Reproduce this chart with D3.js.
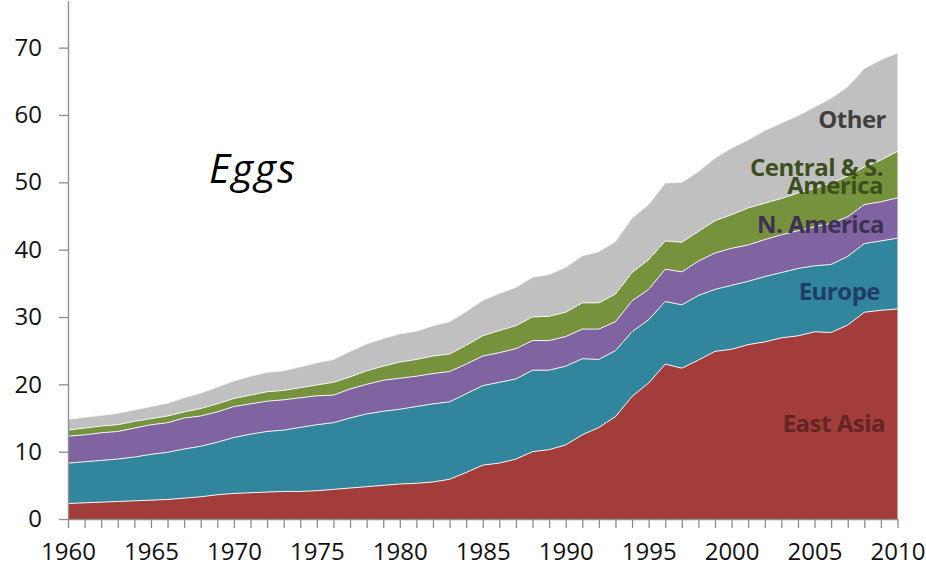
<!DOCTYPE html>
<html>
<head>
<meta charset="utf-8">
<script src="https://cdn.jsdelivr.net/npm/d3@7"></script>
<style>
  body { margin: 0; background: #fff; }
  svg { display: block; font-family: "Open Sans", sans-serif; }
</style>
</head>
<body>
<div id="chart"></div>
<script>
// egg production by region
var years = d3.range(1960, 2011);
var regions = ["East Asia", "Europe", "N. America", "Central & S. America", "Other"];

var eastAsia = [2.3, 2.4, 2.5, 2.6, 2.7, 2.8, 2.9, 3.1, 3.3, 3.6,
  3.8, 3.9, 4.0, 4.1, 4.1, 4.2, 4.4, 4.6, 4.8, 5.0,
  5.2, 5.3, 5.5, 5.9, 6.9, 8.0, 8.3, 8.9, 10.0, 10.3,
  11.0, 12.5, 13.6, 15.2, 18.2, 20.2, 23.0, 22.4, 23.6, 24.9,
  25.2, 25.9, 26.3, 26.9, 27.2, 27.8, 27.7, 28.8, 30.7, 31.0, 31.2];
var europe = [6.0, 6.1, 6.2, 6.3, 6.5, 6.8, 7.0, 7.3, 7.5, 7.8,
  8.3, 8.7, 9.0, 9.1, 9.5, 9.8, 9.9, 10.4, 10.8, 11.0,
  11.1, 11.4, 11.6, 11.5, 11.7, 11.8, 12.0, 11.9, 12.1, 11.8,
  11.7, 11.3, 10.1, 9.8, 9.6, 9.4, 9.3, 9.4, 9.6, 9.2,
  9.5, 9.4, 9.7, 9.7, 10.0, 9.8, 10.1, 10.2, 10.2, 10.3, 10.5];
var nAmerica = [4.0, 4.0, 4.1, 4.1, 4.3, 4.4, 4.4, 4.6, 4.5, 4.5,
  4.6, 4.5, 4.5, 4.5, 4.4, 4.3, 4.1, 4.3, 4.4, 4.6,
  4.6, 4.5, 4.5, 4.5, 4.4, 4.4, 4.4, 4.5, 4.4, 4.4,
  4.4, 4.4, 4.5, 4.3, 4.6, 4.5, 4.8, 4.9, 5.1, 5.4,
  5.5, 5.4, 5.5, 5.6, 5.6, 5.8, 6.1, 5.9, 5.8, 5.8, 6.0];
var csAmerica = [0.9, 1.0, 1.0, 1.0, 1.0, 0.9, 1.0, 0.9, 1.1, 1.2,
  1.2, 1.3, 1.4, 1.4, 1.5, 1.6, 1.9, 1.8, 2.0, 2.1,
  2.4, 2.5, 2.6, 2.6, 2.8, 3.0, 3.3, 3.4, 3.5, 3.6,
  3.6, 3.9, 3.9, 4.1, 4.2, 4.4, 4.2, 4.4, 4.4, 4.8,
  5.0, 5.5, 5.4, 5.4, 5.6, 5.7, 6.0, 6.0, 5.6, 6.2, 6.9];
var other = [1.6, 1.6, 1.6, 1.7, 1.7, 1.8, 1.9, 2.1, 2.3, 2.5,
  2.6, 2.8, 2.9, 2.9, 3.1, 3.3, 3.4, 3.8, 4.0, 4.1,
  4.2, 4.2, 4.5, 4.8, 5.0, 5.3, 5.5, 5.7, 5.9, 6.2,
  6.7, 7.0, 7.6, 7.8, 8.1, 8.2, 8.6, 8.9, 8.9, 9.3,
  9.9, 10.1, 10.8, 11.2, 11.5, 12.1, 12.6, 13.3, 14.6, 14.9, 14.6];

var yTicks = [0, 10, 20, 30, 40, 50, 60, 70];
var xLabels = [1960, 1965, 1970, 1975, 1980, 1985, 1990, 1995, 2000, 2005, 2010];

var fills = ["#a33d3b", "#31859c", "#8064a2", "#76923c", "#c0c0c0"];
var labelColors = ["#632523", "#1f3d63", "#3f3151", "#3d4f1e", "#404040"];

var width = 926, height = 568;
var svg = d3.select("#chart").append("svg")
  .attr("width", width)
  .attr("height", height);

var x = d3.scaleLinear().domain([1960, 2010]).range([68, 897.5]);
var y = d3.scaleLinear().domain([0, 77]).range([519, 0.5]);

var series = [eastAsia, europe, nAmerica, csAmerica, other];
var table = years.map(function(yr, i) {
  var row = { year: yr };
  regions.forEach(function(r, k) { row[r] = series[k][i]; });
  return row;
});
var stacked = d3.stack().keys(regions)(table);

var area = d3.area()
  .x(function(d) { return x(d.data.year); })
  .y0(function(d) { return y(d[0]); })
  .y1(function(d) { return y(d[1]); });
var topLine = d3.line()
  .x(function(d) { return x(d.data.year); })
  .y(function(d) { return y(d[1]); });

svg.append("g").selectAll("path")
  .data(stacked)
  .enter().append("path")
  .attr("d", area)
  .attr("fill", function(d, i) { return fills[i]; });

// thin light separators between layers
svg.append("g").selectAll("path")
  .data(stacked)
  .enter().append("path")
  .attr("d", topLine)
  .attr("fill", "none")
  .attr("stroke", "#f4f4f4")
  .attr("stroke-width", 1);

// axes
var yAxis = svg.append("g")
  .attr("transform", "translate(68,0)")
  .call(d3.axisLeft(y).tickValues(yTicks).tickSize(9).tickSizeOuter(0).tickPadding(17));

var xAxis = svg.append("g")
  .attr("transform", "translate(0,519)")
  .call(d3.axisBottom(x).tickValues(years).tickSize(9).tickSizeOuter(0).tickPadding(15)
    .tickFormat(function(d) { return xLabels.indexOf(d) >= 0 ? d : ""; }));

[yAxis, xAxis].forEach(function(g) {
  g.select(".domain").attr("stroke", "#8c8c8c").attr("stroke-width", 1.3);
  g.selectAll(".tick line").attr("stroke", "#8c8c8c").attr("stroke-width", 1.3);
  g.selectAll(".tick text")
    .attr("fill", "#111")
    .style("font-family", "'Open Sans', sans-serif")
    .style("font-size", "24px");
});
xAxis.selectAll(".tick text").filter(function(d) { return xLabels.indexOf(d) < 0; }).remove();

// title
svg.append("text")
  .attr("x", 209)
  .attr("y", 183)
  .style("font-size", "41px")
  .style("font-style", "italic")
  .style("letter-spacing", "1.5px")
  .attr("fill", "#000")
  .text("Eggs");

// layer labels
var labels = [
  { lines: ["East Asia"], k: 0, x: 885, y: 432 },
  { lines: ["Europe"], k: 1, x: 880, y: 300 },
  { lines: ["N. America"], k: 2, x: 884, y: 233 },
  { lines: ["Central & S.", "America"], k: 3, x: 883, y: 176 },
  { lines: ["Other"], k: 4, x: 886, y: 128 }
];
var lab = svg.append("g").selectAll("text")
  .data(labels)
  .enter().append("text")
  .attr("x", function(d) { return d.x; })
  .attr("y", function(d) { return d.y; })
  .attr("text-anchor", "end")
  .style("font-size", "24px")
  .style("font-weight", "bold")
  .style("letter-spacing", "-0.5px")
  .attr("fill", function(d) { return labelColors[d.k]; });
lab.selectAll("tspan")
  .data(function(d) { return d.lines.map(function(t) { return { t: t, x: d.x }; }); })
  .enter().append("tspan")
  .attr("x", function(d) { return d.x; })
  .attr("dy", function(d, i) { return i === 0 ? 0 : 18; })
  .text(function(d) { return d.t; });
</script>
</body>
</html>
